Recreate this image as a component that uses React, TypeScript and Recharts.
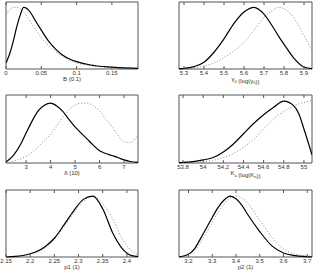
import React from "react";
import { LineChart, Line, XAxis, YAxis, Label, ReferenceArea } from "recharts";

// B (0.1)
const bX = [0, 0.005, 0.01, 0.015, 0.02, 0.025, 0.03, 0.035, 0.04, 0.05, 0.06, 0.07, 0.08, 0.09, 0.1, 0.12, 0.14, 0.16, 0.187];
const bPost = [0.09, 0.22, 0.4, 0.62, 0.8, 0.92, 0.9, 0.84, 0.75, 0.58, 0.42, 0.3, 0.21, 0.15, 0.11, 0.06, 0.035, 0.02, 0.01];
const bPrior = [0.8, 0.88, 0.92, 0.92, 0.9, 0.85, 0.78, 0.7, 0.62, 0.47, 0.35, 0.26, 0.19, 0.13, 0.09, 0.05, 0.028, 0.015, 0.008];
const bTicks = [0, 0.05, 0.1, 0.15];

// gamma0
const gX = [5.275, 5.3, 5.35, 5.4, 5.45, 5.5, 5.55, 5.6, 5.65, 5.7, 5.75, 5.775, 5.8, 5.85, 5.9, 5.94];
const gPost = [0.005, 0.01, 0.035, 0.1, 0.25, 0.45, 0.68, 0.85, 0.92, 0.82, 0.6, 0.48, 0.37, 0.16, 0.03, 0.005];
const gPrior = [0.003, 0.006, 0.02, 0.045, 0.09, 0.17, 0.27, 0.4, 0.58, 0.77, 0.89, 0.92, 0.9, 0.76, 0.5, 0.27];
const gTicks = [5.3, 5.4, 5.5, 5.6, 5.7, 5.8, 5.9];

// delta (10)
const dX = [2.18, 2.5, 2.8, 3.0, 3.25, 3.5, 3.75, 4.0, 4.25, 4.5, 4.75, 5.0, 5.25, 5.5, 5.75, 6.0, 6.25, 6.5, 6.75, 7.0, 7.25, 7.57];
const dPost = [0.014, 0.12, 0.29, 0.44, 0.62, 0.77, 0.85, 0.88, 0.84, 0.76, 0.64, 0.53, 0.44, 0.35, 0.26, 0.18, 0.14, 0.11, 0.08, 0.045, 0.022, 0.01];
const dPrior = [0.0, 0.03, 0.065, 0.1, 0.16, 0.24, 0.33, 0.42, 0.54, 0.67, 0.78, 0.85, 0.88, 0.88, 0.84, 0.76, 0.65, 0.54, 0.41, 0.31, 0.3, 0.41];
const dTicks = [3, 4, 5, 6, 7];

// Ka
const kX = [53.76, 53.9, 54.0, 54.1, 54.2, 54.3, 54.4, 54.5, 54.6, 54.7, 54.8, 54.9, 54.95, 55.0, 55.08];
const kPost = [0.005, 0.02, 0.045, 0.08, 0.16, 0.28, 0.43, 0.58, 0.71, 0.82, 0.91, 0.84, 0.72, 0.5, 0.12];
const kPrior = [0.002, 0.008, 0.02, 0.04, 0.08, 0.14, 0.23, 0.35, 0.5, 0.65, 0.76, 0.84, 0.87, 0.89, 0.92];
const kTicks = [53.8, 54, 54.2, 54.4, 54.6, 54.8, 55];

// p1
const p1X = [2.15, 2.17, 2.19, 2.21, 2.23, 2.25, 2.27, 2.29, 2.31, 2.33, 2.35, 2.37, 2.39, 2.41, 2.423];
const p1Post = [0.0, 0.01, 0.03, 0.07, 0.15, 0.28, 0.48, 0.69, 0.86, 0.91, 0.72, 0.37, 0.13, 0.02, 0.005];
const p1Prior = [0.0, 0.008, 0.025, 0.06, 0.13, 0.26, 0.45, 0.66, 0.83, 0.91, 0.8, 0.58, 0.28, 0.09, 0.03];
const p1Ticks = [2.15, 2.2, 2.25, 2.3, 2.35, 2.4];

// p2
const p2X = [3.16, 3.2, 3.225, 3.25, 3.275, 3.3, 3.325, 3.35, 3.375, 3.4, 3.425, 3.45, 3.5, 3.55, 3.6, 3.65, 3.72];
const p2Post = [0.0, 0.04, 0.12, 0.27, 0.43, 0.59, 0.74, 0.85, 0.91, 0.87, 0.77, 0.63, 0.38, 0.17, 0.06, 0.02, 0.0];
const p2Prior = [0.0, 0.03, 0.09, 0.21, 0.36, 0.52, 0.67, 0.79, 0.88, 0.91, 0.88, 0.8, 0.55, 0.3, 0.12, 0.04, 0.01];
const p2Ticks = [3.2, 3.3, 3.4, 3.5, 3.6, 3.7];

const FRAME = "#555";
const TXT = "#333";

const fmt = (v: number) => String(parseFloat(v.toFixed(3)));

const sub = (s: string) => (
  <>
    <tspan fontSize={4} dy={1.5}>{s}</tspan>
    <tspan dy={-1.5}></tspan>
  </>
);

type PanelProps = {
  xs: number[];
  post: number[];
  prior: number[];
  domain: [number, number];
  ticks: number[];
  title: React.ReactNode;
  left: number;
  top: number;
  width: number;
  height: number;
  mLeft: number;
  mRight: number;
  mTop: number;
  axisH: number;
};

function Panel({ xs, post, prior, domain, ticks, title, left, top, width, height, mLeft, mRight, mTop, axisH }: PanelProps) {
  const data = xs.map((x, i) => ({ x, s: post[i], d: prior[i] }));
  return (
    <div style={{ position: "absolute", left, top }}>
      <LineChart width={width} height={height} data={data} margin={{ top: mTop - 1, right: mRight, bottom: 0, left: mLeft }}>
        <XAxis
          dataKey="x"
          type="number"
          domain={domain}
          ticks={ticks}
          interval={0}
          allowDataOverflow
          tickSize={-3}
          tickMargin={5}
          tick={{ fontSize: 6, fill: TXT }}
          tickFormatter={fmt}
          axisLine={false}
          stroke={FRAME}
          height={axisH}
        >
          <Label
            content={(p: any) => {
              const vb = p.viewBox;
              return (
                <text x={vb.x + vb.width / 2} y={vb.y + 12} textAnchor="middle" fontSize={6} fill={TXT}>
                  {title}
                </text>
              );
            }}
          />
        </XAxis>
        <XAxis
          xAxisId="top"
          orientation="top"
          dataKey="x"
          type="number"
          domain={domain}
          ticks={ticks}
          interval={0}
          allowDataOverflow
          tickSize={-3}
          tickFormatter={() => ""}
          axisLine={false}
          stroke={FRAME}
          height={1}
        />
        <YAxis domain={[0, 1]} hide />
        <ReferenceArea
          x1={domain[0]}
          x2={domain[1]}
          y1={0}
          y2={1}
          fill="none"
          fillOpacity={0}
          stroke={FRAME}
          strokeWidth={1}
          ifOverflow="visible"
        />
        <Line dataKey="d" type="monotone" stroke="#888" strokeWidth={1} strokeDasharray="1 2" dot={false} isAnimationActive={false} />
        <Line dataKey="s" type="monotone" stroke="#000" strokeWidth={1.2} dot={false} isAnimationActive={false} />
      </LineChart>
    </div>
  );
}

export default function App() {
  const col1 = { left: 0, width: 150, mLeft: 6, mRight: 12 };
  const col2 = { left: 158, width: 158, mLeft: 21, mRight: 4 };
  const row1 = { top: 0, height: 92, mTop: 2, axisH: 23 };
  const row2 = { top: 92, height: 92, mTop: 3, axisH: 21 };
  const row3 = { top: 184, height: 89, mTop: 6, axisH: 16 };
  return (
    <div style={{ position: "absolute", left: 0, top: 0, width: 316, height: 273, background: "#fff", fontFamily: "'Liberation Sans', Arial, sans-serif" }}>
      <Panel {...col1} {...row1} xs={bX} post={bPost} prior={bPrior} domain={[0, 0.187]} ticks={bTicks} title="B (0.1)" />
      <Panel
        {...col2}
        {...row1}
        xs={gX}
        post={gPost}
        prior={gPrior}
        domain={[5.275, 5.94]}
        ticks={gTicks}
        title={<>γ{sub("0")} (log(γ{sub("0")}))</>}
      />
      <Panel {...col1} {...row2} xs={dX} post={dPost} prior={dPrior} domain={[2.18, 7.57]} ticks={dTicks} title="δ (10)" />
      <Panel
        {...col2}
        {...row2}
        xs={kX}
        post={kPost}
        prior={kPrior}
        domain={[53.76, 55.08]}
        ticks={kTicks}
        title={<>K{sub("a")} (log(K{sub("a")}))</>}
      />
      <Panel {...col1} {...row3} xs={p1X} post={p1Post} prior={p1Prior} domain={[2.15, 2.423]} ticks={p1Ticks} title="p1 (1)" />
      <Panel {...col2} {...row3} xs={p2X} post={p2Post} prior={p2Prior} domain={[3.16, 3.72]} ticks={p2Ticks} title="p2 (1)" />
    </div>
  );
}
